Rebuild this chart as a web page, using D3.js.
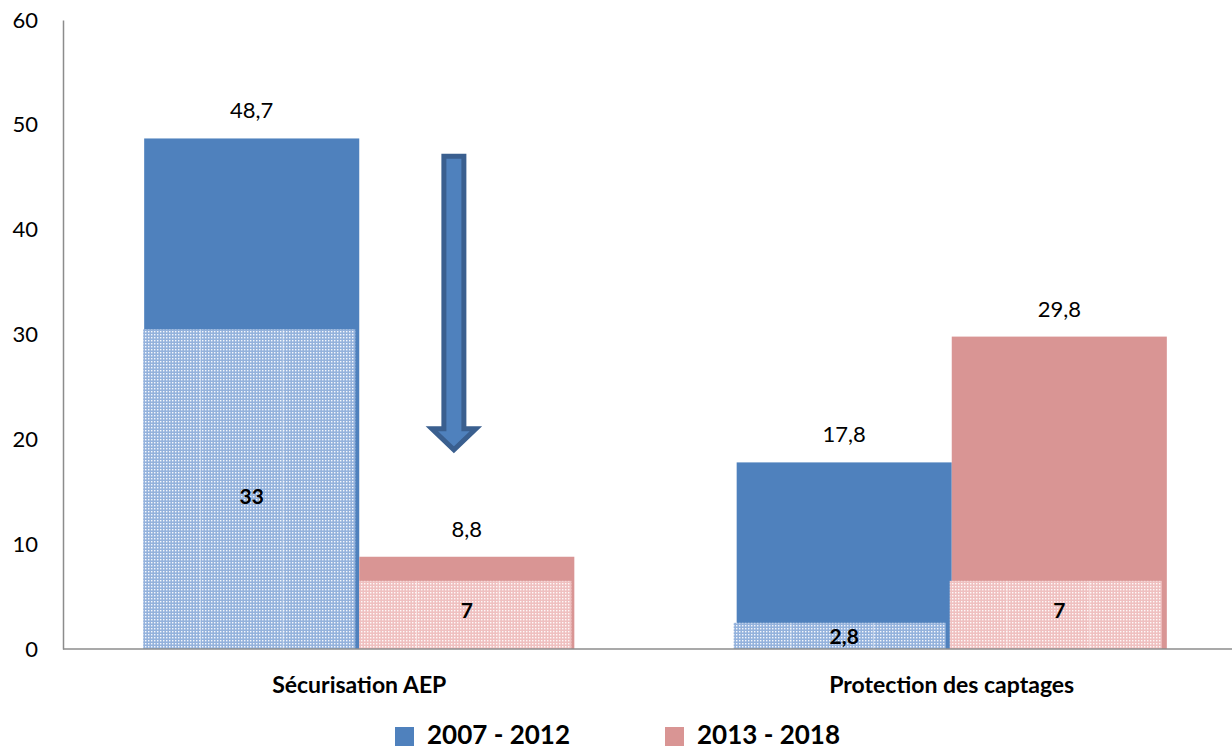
<!DOCTYPE html>
<html><head><meta charset="utf-8">
<script src="https://cdn.jsdelivr.net/npm/d3@7"></script>
<style>body{margin:0;background:#fff}svg{display:block}text{font-family:Lato,"Open Sans",sans-serif}</style>
</head><body><svg id="c" width="1232" height="751"></svg>
<script>
const categories = ["Sécurisation AEP", "Protection des captages"];
const series = ["2007 - 2012", "2013 - 2018"];
const values2007 = [48.7, 17.8];
const values2013 = [8.8, 29.8];
const overlay2007 = [30.5, 2.5];
const overlay2013 = [6.5, 6.5];
const overlayLabels2007 = ["33", "2,8"];
const overlayLabels2013 = ["7", "7"];
const overlayLabelY = [[14.6, 1.2], [3.7, 3.7]];
const yTicks = [0, 10, 20, 30, 40, 50, 60];
const arrow = {from: 47, to: 19};

const colors = ["#4f81bd", "#d99594"];
const hatchBase = ["#94b2dc", "#efc0c0"];
const svg = d3.select("#c");
const m = {l: 63, t: 20, b: 649};
const y = d3.scaleLinear().domain([0, 60]).range([m.b, m.t]);
const x0 = d3.scaleBand().domain(categories).range([m.l, m.l + 2 * 592.5]).paddingInner(0.274).paddingOuter(0.137);
const x1 = d3.scaleBand().domain(series).range([0, x0.bandwidth()]);

const defs = svg.append("defs");
hatchBase.forEach((c, i) => {
  const p = defs.append("pattern").attr("id", "h" + i).attr("patternUnits", "userSpaceOnUse").attr("width", 3).attr("height", 3);
  p.append("rect").attr("width", 3).attr("height", 3).attr("fill", c);
  p.append("rect").attr("x", 1).attr("y", 1).attr("width", 1.4).attr("height", 1.4).attr("fill", "#fff").attr("opacity", 0.9);
});

const data = categories.map((c, i) => ({c, v: [values2007[i], values2013[i]], o: [overlay2007[i], overlay2013[i]], ol: [overlayLabels2007[i], overlayLabels2013[i]], oy: [overlayLabelY[0][i], overlayLabelY[1][i]]}));

// axes
const yAxis = svg.append("g").attr("transform", `translate(${m.l},0)`).call(d3.axisLeft(y).tickValues(yTicks).tickSize(0).tickPadding(25));
yAxis.select(".domain").attr("stroke", "#8c8c8c").attr("stroke-width", 1.5);
yAxis.selectAll("text").attr("font-size", 22).attr("fill", "#000");

const g = svg.append("g");
data.forEach(d => {
  series.forEach((s, k) => {
    const bx = x0(d.c) + x1(s);
    g.append("rect").attr("x", bx).attr("y", y(d.v[k])).attr("width", x1.bandwidth()).attr("height", y(0) - y(d.v[k])).attr("fill", colors[k]);
    const ox = bx - (k === 0 ? 1 : 0) - (d.c === categories[1] ? 2 : 0);
    const ow = x1.bandwidth() - 3;
    g.append("rect").attr("x", ox).attr("y", y(d.o[k])).attr("width", ow).attr("height", y(0) - y(d.o[k])).attr("fill", `url(#h${k})`);
    [0.27, 0.66].forEach(f => {
      g.append("line").attr("x1", ox + f * ow).attr("x2", ox + f * ow).attr("y1", y(d.o[k])).attr("y2", y(0)).attr("stroke", "#fff").attr("stroke-opacity", 0.45).attr("stroke-width", 1);
    });
    g.append("text").attr("x", bx + x1.bandwidth() / 2).attr("y", y(d.v[k]) - 20).attr("text-anchor", "middle").attr("font-size", 22).text(String(d.v[k]).replace(".", ","));
    g.append("text").attr("x", bx + x1.bandwidth() / 2).attr("y", y(d.oy[k])).attr("dy", "0.36em").attr("text-anchor", "middle").attr("font-size", 21).attr("font-weight", "bold").text(d.ol[k]);
  });
});

// x axis
svg.append("line").attr("x1", m.l).attr("x2", 1232).attr("y1", y(0)).attr("y2", y(0)).attr("stroke", "#8c8c8c").attr("stroke-width", 1.5);
svg.append("g").selectAll("text").data(categories).join("text")
  .attr("x", c => x0(c) + x0.bandwidth() / 2).attr("y", 693).attr("text-anchor", "middle").attr("font-size", 23).attr("font-weight", "bold").text(c => c);

// arrow
const ax = x0(categories[0]) + x0.bandwidth() * 0.72;
const yT = y(arrow.from), yTip = y(arrow.to), yHead = yTip - 21;
const path = `M${ax - 10},${yT} L${ax + 10},${yT} L${ax + 10},${yHead} L${ax + 22},${yHead} L${ax},${yTip} L${ax - 22},${yHead} L${ax - 10},${yHead} Z`;
svg.append("path").attr("d", path).attr("fill", "#4f81bd").attr("stroke", "#3a5f8f").attr("stroke-width", 5).attr("stroke-linejoin", "miter");

// legend
const leg = svg.append("g");
const lx = [395, 665];
series.forEach((s, k) => {
  leg.append("rect").attr("x", lx[k]).attr("y", 727).attr("width", 19).attr("height", 19).attr("fill", colors[k]);
  leg.append("text").attr("x", lx[k] + 32).attr("y", 744).attr("font-size", 26).attr("font-weight", "bold").text(s);
});
</script></body></html>
